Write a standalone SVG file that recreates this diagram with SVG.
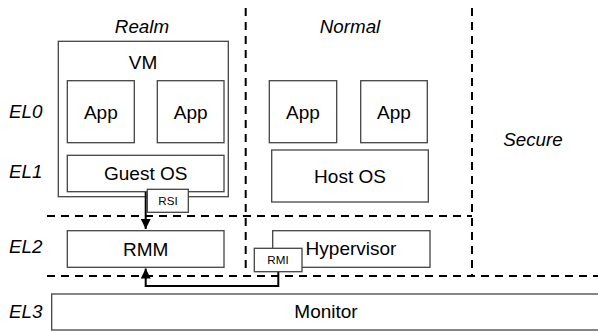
<svg xmlns="http://www.w3.org/2000/svg" width="598" height="333" viewBox="0 0 598 333">
<defs>
<style>
text{font-family:"Liberation Sans",Arial,sans-serif;fill:#000}
.t{font-size:19px;text-anchor:middle}
.s{font-size:11.6px;text-anchor:middle}
.i{font-size:18.8px;font-style:italic}
.b{fill:#fff;stroke:#444;stroke-width:1.3}
.d{fill:none;stroke:#000;stroke-width:2;stroke-dasharray:8,6}
.c{fill:none;stroke:#000;stroke-width:2}
</style>
<marker id="ah" viewBox="0 0 10 10" refX="10" refY="5" markerWidth="5" markerHeight="5" orient="auto" markerUnits="strokeWidth">
<path d="M0,0 L10,5 L0,10 z" fill="#000"/>
</marker>
</defs>
<rect width="598" height="333" fill="#fff"/>
<g id="regions">
<path class="d" d="M245.7,8 V274"/>
<path class="d" d="M472,8 V276"/>
<path class="d" d="M47,216 H472"/>
<path class="d" d="M47,276 H598"/>
</g>
<g id="labels">
<text class="i" x="142" y="33" text-anchor="middle">Realm</text>
<text class="i" x="350" y="33" text-anchor="middle">Normal</text>
<text class="i" x="533" y="146" text-anchor="middle">Secure</text>
<text class="i" x="9" y="118">EL0</text>
<text class="i" x="9" y="178">EL1</text>
<text class="i" x="9" y="253">EL2</text>
<text class="i" x="9" y="318">EL3</text>
</g>
<g id="vm">
<rect class="b" x="58.3" y="41.3" width="170" height="155.4"/>
<text class="t" x="143" y="69">VM</text>
</g>
<g id="realm-app1">
<rect class="b" x="67.3" y="80.7" width="67" height="62"/>
<text class="t" x="100.8" y="119">App</text>
</g>
<g id="realm-app2">
<rect class="b" x="157.3" y="80.7" width="66.7" height="62"/>
<text class="t" x="190.7" y="119">App</text>
</g>
<g id="guest-os">
<rect class="b" x="67.3" y="155.3" width="156.7" height="36.4"/>
<text class="t" x="145.7" y="180">Guest OS</text>
</g>
<g id="normal-app1">
<rect class="b" x="269.3" y="80.7" width="67.4" height="62"/>
<text class="t" x="303" y="119">App</text>
</g>
<g id="normal-app2">
<rect class="b" x="360.7" y="80.7" width="66.6" height="62"/>
<text class="t" x="394" y="119">App</text>
</g>
<g id="host-os">
<rect class="b" x="271.7" y="150" width="156.6" height="52"/>
<text class="t" x="350" y="183">Host OS</text>
</g>
<g id="rmm">
<rect class="b" x="67.3" y="230.7" width="156.7" height="36.6"/>
<text class="t" x="145.7" y="256">RMM</text>
</g>
<g id="hypervisor">
<rect class="b" x="272.7" y="230.7" width="157.3" height="36.6"/>
<text class="t" x="351" y="255">Hypervisor</text>
</g>
<g id="monitor">
<rect class="b" x="51.7" y="294" width="560" height="36"/>
<text class="t" x="326" y="318">Monitor</text>
</g>
<g id="connectors">
<path class="c" d="M145.7,192 V229" marker-end="url(#ah)"/>
<path class="c" d="M278.3,271.7 V286 H145.7 V268.5" marker-end="url(#ah)"/>
</g>
<g id="rsi">
<rect class="b" x="147.3" y="189.3" width="41" height="23"/>
<text class="s" x="168" y="204.5">RSI</text>
</g>
<g id="rmi">
<rect class="b" x="254.3" y="248.3" width="47.7" height="23.4"/>
<text class="s" x="278" y="264">RMI</text>
</g>
</svg>
